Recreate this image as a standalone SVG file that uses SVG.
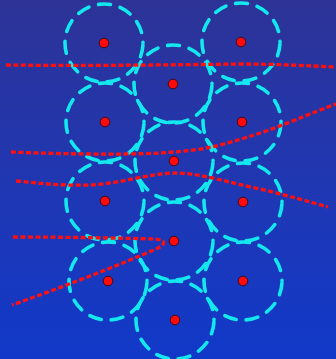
<svg xmlns="http://www.w3.org/2000/svg" width="336" height="359" viewBox="0 0 336 359">
<defs>
<linearGradient id="bg" x1="0" y1="0" x2="0" y2="1">
<stop offset="0" stop-color="#2d3396"/>
<stop offset="0.5" stop-color="#2037b2"/>
<stop offset="1" stop-color="#1139c9"/>
</linearGradient>
<style>
.c{fill:none;stroke:#14e8ee;stroke-width:3.6;stroke-dasharray:12 10;stroke-dashoffset:20;stroke-linecap:round}
.d{fill:#ff0a0a;stroke:#3a0a20;stroke-width:1}
.r{fill:none;stroke:#ff1010;stroke-width:3.3;stroke-dasharray:5 2.5}
</style>
</defs>
<rect x="0" y="0" width="336" height="359" fill="url(#bg)"/>
<g id="n1"><circle class="c" cx="104" cy="43" r="39"/><circle class="d" cx="104" cy="43" r="4.8"/></g>
<g id="n2"><circle class="c" cx="241" cy="42" r="39"/><circle class="d" cx="241" cy="42" r="4.8"/></g>
<g id="n3"><circle class="c" cx="173" cy="84" r="39"/><circle class="d" cx="173" cy="84" r="4.8"/></g>
<g id="n4"><circle class="c" cx="105" cy="122" r="39"/><circle class="d" cx="105" cy="122" r="4.8"/></g>
<g id="n5"><circle class="c" cx="242" cy="122" r="39"/><circle class="d" cx="242" cy="122" r="4.8"/></g>
<g id="n6"><circle class="c" cx="174" cy="161" r="39"/><circle class="d" cx="174" cy="161" r="4.8"/></g>
<g id="n7"><circle class="c" cx="105" cy="201" r="39"/><circle class="d" cx="105" cy="201" r="4.8"/></g>
<g id="n8"><circle class="c" cx="243" cy="202" r="39"/><circle class="d" cx="243" cy="202" r="4.8"/></g>
<g id="n9"><circle class="c" cx="174" cy="241" r="39"/><circle class="d" cx="174" cy="241" r="4.8"/></g>
<g id="n10"><circle class="c" cx="108" cy="281" r="39"/><circle class="d" cx="108" cy="281" r="4.8"/></g>
<g id="n11"><circle class="c" cx="243" cy="281" r="39"/><circle class="d" cx="243" cy="281" r="4.8"/></g>
<g id="n12"><circle class="c" cx="175" cy="320" r="39"/><circle class="d" cx="175" cy="320" r="4.8"/></g>
<g id="connectors">
<path class="r" d="M6,65 C80,66 160,65 240,64 C280,64 310,66 336,67"/>
<path class="r" d="M11,152 C60,154 120,155 160,153 C190,151 205,149 220,145 C250,137 270,130 290,122 C310,114 325,108 336,104"/>
<path class="r" d="M16,181 C40,183 60,186 90,185 C120,184 150,173 175,173 C200,173 230,183 260,189 C290,196 310,202 328,207"/>
<path class="r" d="M13,237 C60,237 120,238 155,239 C166,240 166,244 158,248 C120,265 60,288 12,305"/>
</g>
</svg>
